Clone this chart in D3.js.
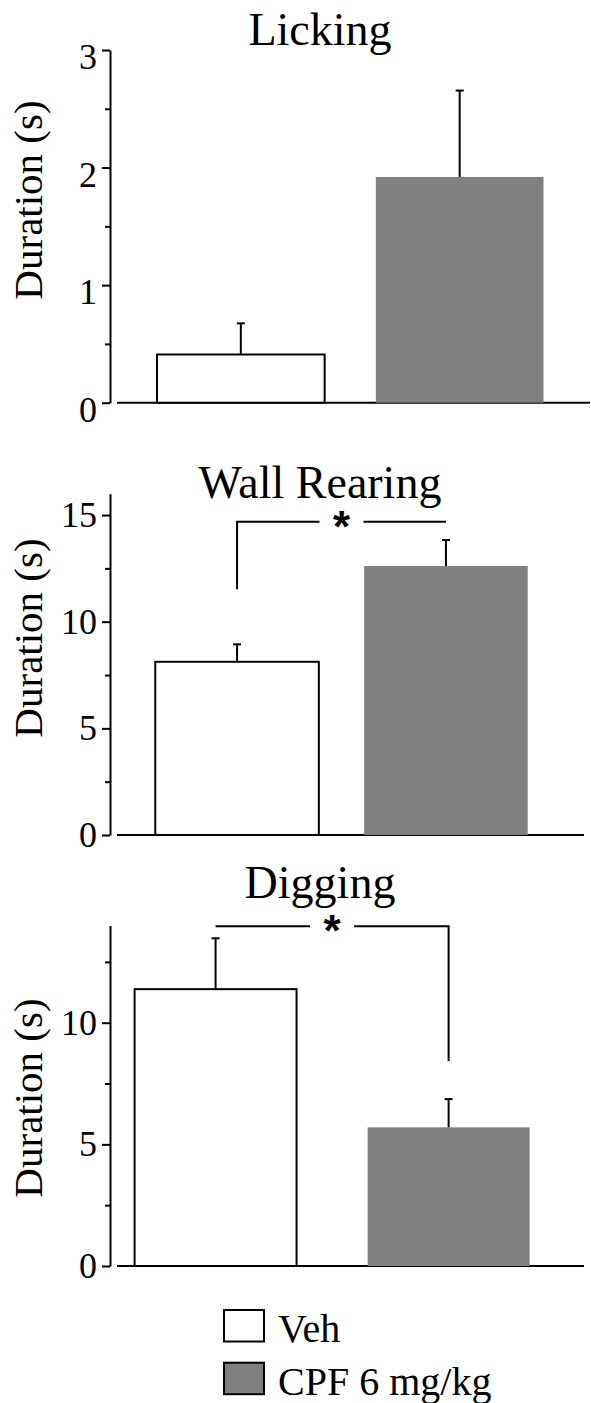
<!DOCTYPE html>
<html>
<head>
<meta charset="utf-8">
<script src="https://cdn.jsdelivr.net/npm/d3@7"></script>
<style>
  body { margin: 0; background: #fff; }
  svg { display: block; }
  text { font-family: "Liberation Serif", "Times New Roman", serif; fill: #000; }
</style>
</head>
<body>
<script>
// data
const groups = ["Veh", "CPF 6 mg/kg"];
const titles = ["Licking", "Wall Rearing", "Digging"];

const meanLicking = [0.41, 1.92];
const semLicking = [0.265, 0.735];
const meanWall = [8.12, 12.61];
const semWall = [0.82, 1.22];
const meanDigging = [11.38, 5.70];
const semDigging = [2.09, 1.16];

const yMax = [3, 16, 14];
const majorTicks = [[0, 1, 2, 3], [0, 5, 10, 15], [0, 5, 10]];
const minorTicks = [[0.5, 1.5, 2.5], [2.5, 7.5, 12.5], [2.5, 7.5, 12.5]];

// significance brackets (data units); null = no drop on that side
const sigLevel = [null, 14.69, 13.96];
const sigLeftDrop = [null, 11.52, null];
const sigRightDrop = [null, null, 8.43];

const means = [meanLicking, meanWall, meanDigging];
const sems = [semLicking, semWall, semDigging];
const fills = ["#ffffff", "#808080"];

// layout per panel
const layout = [
  { yRange: [402.7, 50], xRange: [157, 543.5], pad: 0.234, titleY: 45, labelY: 200, baseEnd: 590, tickDy: 7 },
  { yRange: [835, 493.7], xRange: [155.3, 527.7], pad: 0.217, titleY: 498, labelY: 638, baseEnd: 584, tickDy: 0 },
  { yRange: [1266, 925.4], xRange: [134.6, 529.6], pad: 0.305, titleY: 898, labelY: 1098, baseEnd: 584, tickDy: 0 }
];
const axisX = 110;

const svg = d3.select("body").append("svg")
    .attr("width", 591)
    .attr("height", 1403);

layout.forEach((L, i) => {
  const g = svg.append("g");

  const x = d3.scaleBand().domain(groups).range(L.xRange)
      .paddingInner(L.pad).paddingOuter(0);
  const y = d3.scaleLinear().domain([0, yMax[i]]).range(L.yRange);
  const bw = x.bandwidth();

  // title
  g.append("text")
      .attr("x", 320).attr("y", L.titleY)
      .attr("text-anchor", "middle")
      .attr("font-size", 46)
      .text(titles[i]);

  // y label
  g.append("text")
      .attr("transform", `translate(42,${L.labelY}) rotate(-90)`)
      .attr("text-anchor", "middle")
      .attr("font-size", 41)
      .text("Duration (s)");

  // y axis
  const ax = g.append("g")
      .attr("transform", `translate(${axisX},0)`)
      .call(d3.axisLeft(y).tickValues(majorTicks[i]).tickFormat(d3.format("d"))
        .tickSize(8).tickSizeOuter(0).tickPadding(5));
  ax.attr("font-family", null);
  ax.selectAll("path, line").attr("stroke", "#000").attr("stroke-width", 2);
  ax.selectAll("text")
      .attr("font-size", 36)
      .attr("dy", (0.32 * 36 + L.tickDy) + "px");

  const mx = g.append("g")
      .attr("transform", `translate(${axisX},0)`)
      .call(d3.axisLeft(y).tickValues(minorTicks[i]).tickSize(5).tickFormat(""));
  mx.select(".domain").remove();
  mx.selectAll("line").attr("stroke", "#000").attr("stroke-width", 2);

  // baseline
  g.append("line")
      .attr("x1", axisX + 7).attr("x2", L.baseEnd)
      .attr("y1", y(0)).attr("y2", y(0))
      .attr("stroke", "#000").attr("stroke-width", 2);

  // bars
  g.selectAll("rect.bar")
    .data(groups)
    .join("rect")
      .attr("class", "bar")
      .attr("x", d => x(d))
      .attr("y", (d, j) => y(means[i][j]))
      .attr("width", bw)
      .attr("height", (d, j) => y(0) - y(means[i][j]))
      .attr("fill", (d, j) => fills[j])
      .attr("stroke", (d, j) => j === 0 ? "#000" : "none")
      .attr("stroke-width", 2);

  // error bars (upper only)
  const eb = g.append("g").attr("stroke", "#000").attr("stroke-width", 2);
  groups.forEach((d, j) => {
    const cx = x(d) + bw / 2;
    const top = y(means[i][j] + sems[i][j]);
    eb.append("line")
        .attr("x1", cx).attr("x2", cx)
        .attr("y1", y(means[i][j])).attr("y2", top);
    eb.append("line")
        .attr("x1", cx - 4).attr("x2", cx + 4)
        .attr("y1", top).attr("y2", top);
  });

  // significance bracket
  if (sigLevel[i] != null) {
    const c0 = x(groups[0]) + bw / 2;
    const c1 = x(groups[1]) + bw / 2;
    const mid = (c0 + c1) / 2;
    const gap = 22;
    const ly = y(sigLevel[i]);
    const p = d3.path();
    if (sigLeftDrop[i] != null) {
      p.moveTo(c0, y(sigLeftDrop[i]));
      p.lineTo(c0, ly);
    } else {
      p.moveTo(c0, ly);
    }
    p.lineTo(mid - gap, ly);
    p.moveTo(mid + gap, ly);
    p.lineTo(c1, ly);
    if (sigRightDrop[i] != null) p.lineTo(c1, y(sigRightDrop[i]));
    g.append("path")
        .attr("d", p.toString())
        .attr("fill", "none")
        .attr("stroke", "#000")
        .attr("stroke-width", 2);

    g.append("text")
        .attr("x", mid).attr("y", ly + 20)
        .attr("text-anchor", "middle")
        .attr("font-weight", "bold")
        .attr("font-size", 44)
        .style("font-family", "'Liberation Sans', Arial, sans-serif")
        .text("*");
  }
});

// legend
const legend = svg.append("g");
const legendY = [1310, 1362.7];
legend.selectAll("rect")
  .data(groups)
  .join("rect")
    .attr("x", 224)
    .attr("y", (d, j) => legendY[j])
    .attr("width", 40)
    .attr("height", 31.5)
    .attr("fill", (d, j) => fills[j])
    .attr("stroke", "#000")
    .attr("stroke-width", 2);
legend.selectAll("text")
  .data(groups)
  .join("text")
    .attr("x", 278)
    .attr("y", (d, j) => legendY[j] + 32)
    .attr("font-size", 40)
    .text(d => d);
</script>
</body>
</html>
